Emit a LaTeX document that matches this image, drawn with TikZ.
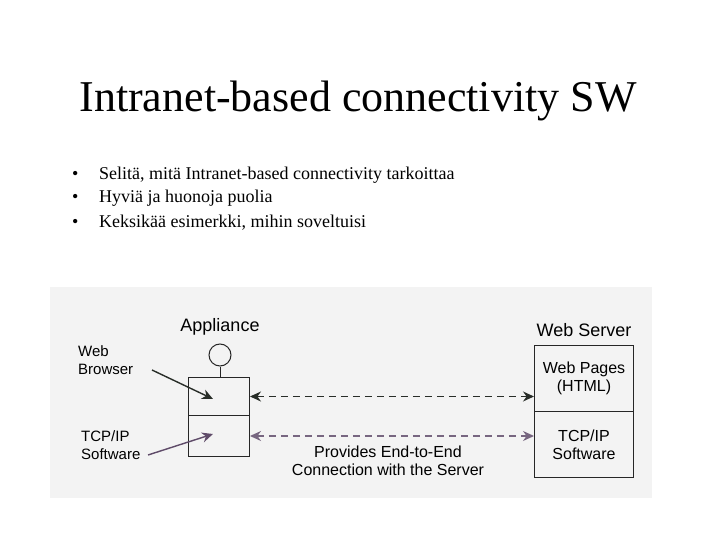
\documentclass[tikz,border=0pt]{standalone}
\usepackage{fontspec}
\setmainfont{Liberation Serif}
\newfontfamily\diag{Liberation Sans}
\usetikzlibrary{arrows.meta}
\definecolor{scanbg}{RGB}{243,243,243}
\definecolor{darkarr}{RGB}{40,45,40}
\definecolor{purparr}{RGB}{95,75,105}
\tikzset{
  box/.style={draw=black!85, line width=1pt, minimum width=61pt, anchor=north west, inner sep=0pt},
  dlabel/.style={font=\diag\fontsize{16}{18}\selectfont, align=center, inner sep=0pt},
  biglabel/.style={font=\diag\fontsize{18}{20}\selectfont, align=center, inner sep=0pt},
  llabel/.style={font=\diag\fontsize{15}{18}\selectfont, align=left, inner sep=0pt, anchor=west},
  bullet/.style={font=\fontsize{18}{21}\selectfont, inner sep=0pt, anchor=base west},
  tip/.style={-{Stealth[length=11pt,width=10pt]}},
  dashline/.style={line width=1.4pt, dash pattern=on 7pt off 5pt, {Stealth[length=11pt,width=10pt]}-{Stealth[length=11pt,width=10pt]}}
}
\begin{document}
\begin{tikzpicture}[x=1pt,y=-1pt]
\useasboundingbox (0,0) rectangle (720,540);
\fill[white] (0,0) rectangle (720,540);
% title
\node[font=\fontsize{44}{48}\selectfont, inner sep=0pt, anchor=base] (title) at (358,112) {Intranet-based connectivity SW};
% bullets
\node[bullet] (b1) at (72,180) {•};
\node[bullet] (t1) at (99,180) {Selitä, mitä Intranet-based connectivity tarkoittaa};
\node[bullet] (b2) at (72,203) {•};
\node[bullet] (t2) at (99,203) {Hyviä ja huonoja puolia};
\node[bullet] (b3) at (72,228) {•};
\node[bullet] (t3) at (99,228) {Keksikää esimerkki, mihin soveltuisi};
% scanned figure background
\fill[scanbg] (50,287) rectangle (652,498);
% appliance
\node[biglabel] (appl) at (220,327) {Appliance};
\node[draw=black!85, line width=1pt, circle, minimum size=22pt, inner sep=0pt] (circ) at (220,355) {};
\node[box, minimum height=38pt] (lb) at (188,377) {};
\node[box, minimum height=41pt] (lt) at (188,415) {};
\draw[black!85, line width=1pt] (circ.south) -- (lb.north -| circ.south);
% web server
\node[biglabel] (ws) at (584,330) {Web Server};
\node[box, minimum width=99pt, minimum height=66pt] (rp) at (534,345) {};
\node[box, minimum width=99pt, minimum height=66pt] (rt) at (534,411) {};
\node[dlabel] (rptext) at (rp.center) {Web Pages\\(HTML)};
\node[dlabel] (rttext) at (rt.center) {TCP/IP\\Software};
% left labels
\node[llabel] (wb) at (78,360) {Web\\Browser};
\node[llabel] (tcp) at (81,445) {TCP/IP\\Software};
\coordinate (wbs) at (152,370);
\coordinate (wbe) at (213,399);
\coordinate (tcps) at (148,455);
\coordinate (tcpe) at (213,434);
\draw[tip, line width=1.4pt, darkarr] (wbs) -- (wbe);
\draw[tip, line width=1.4pt, purparr] (tcps) -- (tcpe);
% dashed connections
\draw[dashline, darkarr] (lb.east) -- (lb.east -| rp.west);
\draw[dashline, purparr!85] (lt.east) -- (lt.east -| rt.west);
\node[dlabel] (prov) at (388,461) {Provides End-to-End\\Connection with the Server};
\end{tikzpicture}
\end{document}
